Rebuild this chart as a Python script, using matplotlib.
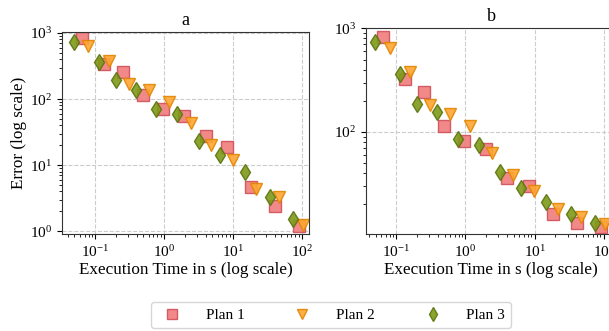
import numpy as np
import matplotlib
matplotlib.use("Agg")
import matplotlib.pyplot as plt

plt.rcParams['font.family'] = ['Liberation Serif', 'DejaVu Serif']
plt.rcParams['mathtext.fontset'] = 'stix'
plt.rcParams['font.size'] = 11

# execution times (s), shared by both runs
t_plan1 = [0.0637, 0.133, 0.251, 0.495, 0.967, 1.95, 3.98, 8.22, 18.2, 40.5, 90.4]
t_plan2 = [0.0796, 0.157, 0.311, 0.605, 1.18, 2.41, 4.82, 9.84, 21.5, 46.9, 103]
t_plan3 = [0.0487, 0.112, 0.199, 0.392, 0.774, 1.55, 3.19, 6.44, 14.7, 33.9, 74.8]

# errors, run a
err_a_plan1 = [850, 344, 254, 114, 70, 54.9, 27.3, 19.1, 4.68, 2.41, 1.19]
err_a_plan2 = [628, 373, 171, 139, 90.4, 43.5, 20.2, 12.1, 4.42, 3.34, 1.25]
err_a_plan3 = [731, 364, 194, 136, 70.8, 58.8, 23.5, 14.3, 7.98, 3.34, 1.52]

# errors, run b
err_b_plan1 = [823, 328, 245, 114, 81.1, 68.3, 35.9, 30.2, 15.9, 13.1, 12.1]
err_b_plan2 = [643, 378, 181, 149, 113, 62.9, 38.7, 27.0, 17.9, 15.2, 12.8]
err_b_plan3 = [741, 362, 187, 154, 85.5, 75.3, 41.4, 28.9, 21.1, 15.9, 13.1]

labels = ['Plan 1', 'Plan 2', 'Plan 3']
styles = [
    dict(marker='s', mfc='#f07c7c', mec='#d0505a'),
    dict(marker='v', mfc='#ffa733', mec='#e08600'),
    dict(marker='d', mfc='#7f9a18', mec='#5c7410'),
]

W, H = 609, 331
fig = plt.figure(figsize=(W / 100, H / 100), dpi=100)
ax_a = fig.add_axes([62 / W, 97 / H, 247 / W, 202 / H])
ax_b = fig.add_axes([366 / W, 97 / H, 250 / W, 206 / H])

runs = [
    (ax_a, 'a', [err_a_plan1, err_a_plan2, err_a_plan3], (0.033, 126), (0.91, 1035)),
    (ax_b, 'b', [err_b_plan1, err_b_plan2, err_b_plan3], (0.0363, 151), (10.3, 1010)),
]
times = [t_plan1, t_plan2, t_plan3]

handles = []
for ax, title, errs, xl, yl in runs:
    handles = []
    for t, e, st, lab in zip(times, errs, styles, labels):
        h, = ax.plot(t, e, linestyle='none', markersize=8, markeredgewidth=1.0,
                     alpha=0.9, label=lab, **st)
        handles.append(h)
    ax.set_xscale('log')
    ax.set_yscale('log')
    ax.set_xlim(*xl)
    ax.set_ylim(*yl)
    ax.set_title(title, fontsize=13, pad=5)
    ax.set_xlabel('Execution Time in s (log scale)', fontsize=12.3, labelpad=2)
    ax.grid(True, which='major', linestyle='--', color='#cccccc', linewidth=0.8)
    ax.set_axisbelow(True)
    ax.tick_params(labelsize=11)
    for s in ax.spines.values():
        s.set_color('#333333')

ax_a.set_ylabel('Error (log scale)', fontsize=12.3, labelpad=2)

leg = fig.legend(handles, labels, loc='center', bbox_to_anchor=(331 / W, 16 / H),
                 ncol=3, fontsize=11, columnspacing=2.8, handletextpad=1.2,
                 frameon=True, fancybox=True, borderpad=0.4)
leg.get_frame().set_edgecolor('#cccccc')
for lh in leg.legend_handles:
    lh.set_markersize(7)

fig.savefig('out.png', dpi=100)
